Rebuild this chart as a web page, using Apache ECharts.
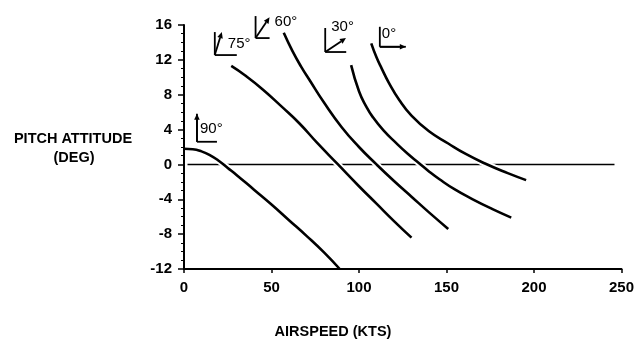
<!DOCTYPE html>
<html>
<head>
<meta charset="utf-8">
<script src="https://cdn.jsdelivr.net/npm/echarts@6/dist/echarts.min.js"></script>
<style>
  html, body { margin: 0; padding: 0; background: #fff; }
  #chart { width: 637px; height: 341px; }
</style>
</head>
<body>
<div id="chart"></div>
<script>
// Axis ticks
const xTicks = [0, 50, 100, 150, 200, 250];
const yTicks = [-12, -8, -4, 0, 4, 8, 12, 16];

// Flight path angle of each trim curve
const curveNames = ['90°', '75°', '60°', '30°', '0°'];

// Pitch attitude (deg) vs airspeed (kts) for each flight path angle
const pitch90 = [[0, 1.8], [5, 1.75], [10, 1.5], [15, 1.05], [20, 0.4], [25, -0.4], [30, -1.2],
                 [40, -2.9], [50, -4.6], [60, -6.4], [70, -8.2], [80, -10.1], [89, -12]];
const pitch75 = [[27, 11.3], [35, 10.2], [45, 8.6], [56, 6.6], [66, 4.7], [76, 2.5], [88, 0],
                 [100, -2.5], [110, -4.5], [120, -6.5], [130, -8.4]];
const pitch60 = [[57, 15.1], [62, 13.0], [67, 11.2], [72, 9.6], [80, 7.1], [90, 4.3], [100, 2.0],
                 [110, 0], [120, -1.9], [130, -3.7], [140, -5.5], [151, -7.4]];
const pitch30 = [[95.5, 11.4], [100, 8.4], [104, 6.7], [108, 5.4], [114, 3.9], [121, 2.5], [128, 1.2],
                 [134, 0.2], [140, -0.8], [146, -1.7], [155, -2.9], [165, -4.0], [176, -5.1], [187, -6.1]];
const pitch0 = [[107, 13.9], [110, 12.3], [113, 11.0], [117, 9.4], [123, 7.4], [130, 5.6], [140, 3.8],
                [151, 2.4], [161, 1.2], [172, 0.1], [185, -1.0], [195.5, -1.8]];
const curves = [pitch90, pitch75, pitch60, pitch30, pitch0];

// Zero pitch reference line
const zeroLine = [[2, 0], [246, 0]];

// Attitude glyphs: corner anchored in data space, shape sizes in px
const glyphLayout = [
  { at: [7.4, 2.6],    angle: 90, v: 28, h: 20, a: 28, tx: 3,  ty: 13 },
  { at: [17.6, 12.55], angle: 73, v: 23, h: 22, a: 24, tx: 13, ty: 11 },
  { at: [40.9, 14.5],  angle: 56, v: 22, h: 14, a: 25, tx: 19, ty: 16 },
  { at: [80.7, 12.9],  angle: 34, v: 24, h: 21, a: 25, tx: 6,  ty: 25 },
  { at: [111.9, 13.5], angle: 0,  v: 20, h: 26, a: 26, tx: 2,  ty: 13 }
];

const FONT = '"Liberation Sans", Arial, sans-serif';

function renderGlyph(params, api) {
  const g = glyphLayout[params.dataIndex];
  const p = api.coord([api.value(0), api.value(1)]);
  const x0 = p[0], y0 = p[1];
  const stroke = { stroke: '#000', lineWidth: 1.8 };
  const rad = g.angle * Math.PI / 180;
  const tx = x0 + g.a * Math.cos(rad), ty = y0 - g.a * Math.sin(rad);
  const L = 6, W = 2.8;
  const bx = tx - L * Math.cos(rad), by = ty + L * Math.sin(rad);
  const nx = Math.sin(rad) * W, ny = Math.cos(rad) * W;
  return {
    type: 'group',
    children: [
      { type: 'line', shape: { x1: x0, y1: y0, x2: x0, y2: y0 - g.v }, style: stroke },
      { type: 'line', shape: { x1: x0, y1: y0, x2: x0 + g.h, y2: y0 }, style: stroke },
      { type: 'line', shape: { x1: x0, y1: y0, x2: bx, y2: by }, style: stroke },
      { type: 'polygon', shape: { points: [[tx, ty], [bx + nx, by + ny], [bx - nx, by - ny]] }, style: { fill: '#000' } },
      { type: 'text', style: { text: curveNames[params.dataIndex], x: x0 + g.tx, y: y0 - g.ty,
          align: 'left', verticalAlign: 'middle', font: '15px ' + FONT, fill: '#000' } }
    ]
  };
}

const chart = echarts.init(document.getElementById('chart'), null, { renderer: 'canvas' });

const series = [];
// reference line sits on the bottom layer
series.push({
  type: 'line', data: zeroLine, symbol: 'none', silent: true, zlevel: 0, z: 1,
  lineStyle: { color: '#000', width: 1.6 }
});
curves.forEach(function (c) {
  // white halo on an upper layer breaks the reference line where each curve crosses it
  series.push({
    type: 'line', data: c, symbol: 'none', smooth: 0.5, silent: true, zlevel: 1, z: 1,
    lineStyle: { color: '#fff', width: 6.5 }
  });
});
curves.forEach(function (c, i) {
  series.push({
    name: curveNames[i], type: 'line', data: c, symbol: 'none', smooth: 0.5, zlevel: 1, z: 2,
    lineStyle: { color: '#000', width: 2.6 }
  });
});
series.push({
  type: 'custom', renderItem: renderGlyph, data: glyphLayout.map(function (g) { return g.at; }),
  clip: false, zlevel: 1, z: 3, silent: true
});

chart.setOption({
  animation: false,
  backgroundColor: '#fff',
  grid: { left: 184, right: 13, top: 25, bottom: 72, containLabel: false },
  xAxis: {
    type: 'value', min: xTicks[0], max: xTicks[xTicks.length - 1], interval: xTicks[1] - xTicks[0], zlevel: 2,
    axisLine: { onZero: false, lineStyle: { color: '#000', width: 2 } },
    axisTick: { show: true, length: 4, lineStyle: { color: '#000', width: 1.5 } },
    axisLabel: { color: '#000', fontFamily: FONT, fontWeight: 'bold', fontSize: 15, margin: 11 },
    splitLine: { show: false }
  },
  yAxis: {
    type: 'value', min: yTicks[0], max: yTicks[yTicks.length - 1], interval: yTicks[1] - yTicks[0], zlevel: 2,
    axisLine: { onZero: false, lineStyle: { color: '#000', width: 2 } },
    axisTick: { show: true, length: 6, lineStyle: { color: '#000', width: 1.5 } },
    minorTick: { show: true, splitNumber: 4, length: 3, lineStyle: { color: '#000', width: 1 } },
    axisLabel: { color: '#000', fontFamily: FONT, fontWeight: 'bold', fontSize: 15, margin: 12 },
    splitLine: { show: false }
  },
  graphic: [
    { type: 'text', x: 73, y: 139, style: { text: 'PITCH ATTITUDE', align: 'center', verticalAlign: 'middle',
        font: 'bold 14.5px ' + FONT, fill: '#000' } },
    { type: 'text', x: 74, y: 158, style: { text: '(DEG)', align: 'center', verticalAlign: 'middle',
        font: 'bold 14.5px ' + FONT, fill: '#000' } },
    { type: 'text', x: 333, y: 332, style: { text: 'AIRSPEED (KTS)', align: 'center', verticalAlign: 'middle',
        font: 'bold 14.5px ' + FONT, fill: '#000' } }
  ],
  series: series
});
</script>
</body>
</html>
